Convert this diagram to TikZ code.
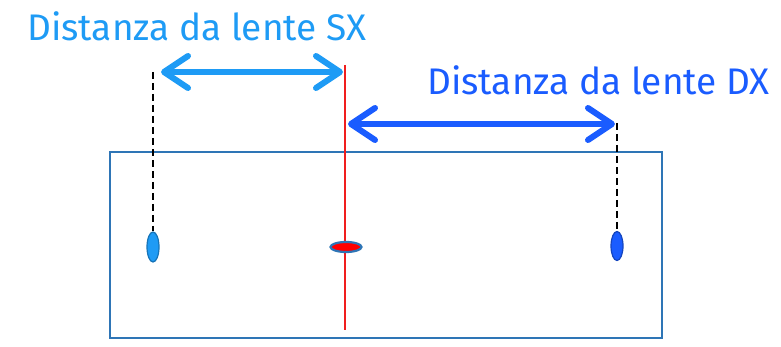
\documentclass[tikz,border=0pt]{standalone}
\usepackage{fontspec}
\setmainfont{Fira Sans}
\usetikzlibrary{arrows.meta,shapes.geometric}
\definecolor{sxblue}{HTML}{1E9BF5}
\definecolor{dxblue}{HTML}{1A5CFF}
\definecolor{boxblue}{HTML}{2E75B6}
\definecolor{lensred}{RGB}{240,30,30}
\tikzset{
  label text/.style={font=\fontsize{37}{41}\selectfont, inner sep=0pt, anchor=base west},
  dist arrow/.style={line width=6pt, line cap=round,
    {Straight Barb[length=24pt, width=32pt, line width=6pt, round]}-{Straight Barb[length=24pt, width=32pt, line width=6pt, round]}},
  guide/.style={black, line width=1.1pt, dash pattern=on 7pt off 4pt},
}
\begin{document}
\begin{tikzpicture}[x=1pt,y=-1pt]
  \useasboundingbox (0,0) rectangle (781,347);
  % outer frame
  \node[draw=boxblue, line width=2pt, minimum width=552pt, minimum height=186pt, inner sep=0pt] (frame) at (386,245) {};
  % central lens axis
  \coordinate (axtop) at (345,65);
  \coordinate (axbot) at (345,330);
  \draw[color=lensred, line width=1.5pt] (axtop) -- (axbot);
  % eyes / lens
  \node[ellipse, draw=sxblue!75!black, fill=sxblue, line width=1.2pt, minimum width=12pt, minimum height=30pt, inner sep=0pt] (left) at (153,247) {};
  \node[ellipse, draw=dxblue!75!black, fill=dxblue, line width=1.2pt, minimum width=12pt, minimum height=29pt, inner sep=0pt] (right) at (617,246) {};
  \node[ellipse, draw=boxblue, fill=red, line width=2.2pt, minimum width=31pt, minimum height=10pt, inner sep=0pt] (lens) at (346,247) {};
  % guides
  \coordinate (ltop) at (153,72);
  \coordinate (rtop) at (617,123);
  \draw[guide] (ltop) -- (left.north);
  \draw[guide] (rtop) -- (right.north);
  % distance arrows
  \coordinate (sxa) at (161,72);
  \coordinate (sxb) at (343,72);
  \coordinate (dxa) at (348,124);
  \coordinate (dxb) at (615,124);
  \draw[dist arrow, sxblue] (sxa) -- (sxb);
  \draw[dist arrow, dxblue] (dxa) -- (dxb);
  % labels
  \node[label text, text=sxblue] (sxlabel) at (27,41) {Distanza da lente SX};
  \node[label text, text=dxblue] (dxlabel) at (427,95) {Distanza da lente DX};
\end{tikzpicture}
\end{document}
